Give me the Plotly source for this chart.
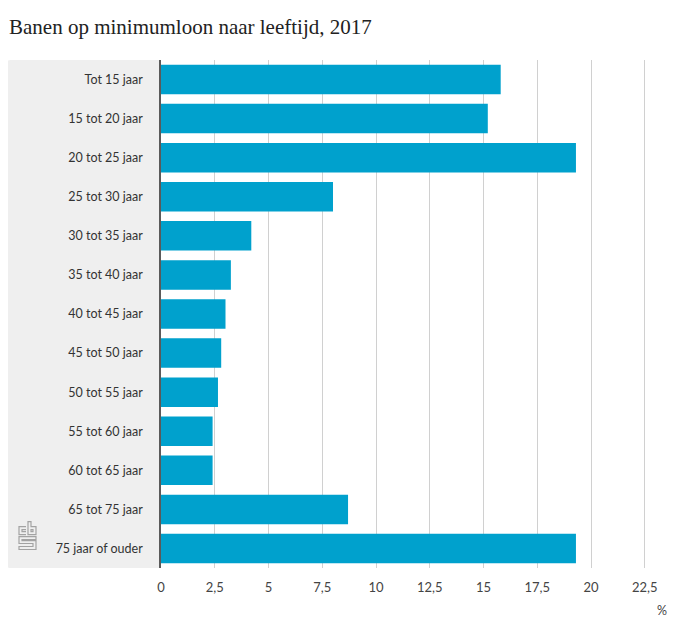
import plotly.graph_objects as go

categories = ["Tot 15 jaar", "15 tot 20 jaar", "20 tot 25 jaar", "25 tot 30 jaar",
              "30 tot 35 jaar", "35 tot 40 jaar", "40 tot 45 jaar", "45 tot 50 jaar",
              "50 tot 55 jaar", "55 tot 60 jaar", "60 tot 65 jaar", "65 tot 75 jaar",
              "75 jaar of ouder"]
values = [15.8, 15.2, 19.3, 8.0, 4.2, 3.25, 3.0, 2.8, 2.65, 2.4, 2.4, 8.7, 19.3]
tick_vals = [0, 2.5, 5, 7.5, 10, 12.5, 15, 17.5, 20, 22.5]
tick_text = ["0", "2,5", "5", "7,5", "10", "12,5", "15", "17,5", "20", "22,5"]
title_text = "Banen op minimumloon naar leeftijd, 2017"
unit_text = "%"

OFF = 8  # page body margin
W, H = 694 - 2 * OFF, 633 - 2 * OFF
L, T = 161 - OFF, 60 - OFF
PB = 568.5 - OFF          # plot bottom in figure px
PR = 680 - OFF            # plot right in figure px
R, B = W - PR, H - PB
PW, PH = W - L - R, H - T - B

def px(x):
    return (x - OFF - L) / PW

def py(y):
    return (H - B - (y - OFF)) / PH

def path_px(points, close=False):
    s = "M " + " L ".join(f"{px(x):.5f},{py(y):.5f}" for x, y in points)
    return s + (" Z" if close else "")

fig = go.Figure(go.Bar(
    x=values, y=categories, orientation="h",
    marker=dict(color="#00a1cd", line=dict(width=0)),
    hoverinfo="x+y",
))

shapes = []
# rounded grey label panel
x0, x1, y0, y1, r = 5, 161, 60, 568.5, 6
rx, ry = r / PW, r / PH
X0, X1, Y0, Y1 = px(x0), px(x1), py(y1), py(y0)
panel = (f"M {X0+rx},{Y1} L {X1},{Y1} L {X1},{Y0} L {X0+rx},{Y0} "
         f"Q {X0},{Y0} {X0},{Y0+ry} L {X0},{Y1-ry} Q {X0},{Y1} {X0+rx},{Y1} Z")
shapes.append(dict(type="path", path=panel, xref="paper", yref="paper",
                   fillcolor="#efefef", line=dict(width=0), layer="below"))

# cbs logo (approximate)
logo_col = "#a3a3a3"
logo_paths = [
    ([(26, 527), (19, 527), (19, 535), (26, 535)], False),
    ([(26, 530), (22, 530), (22, 532), (26, 532)], False),
    ([(28, 522), (28, 535), (36, 535), (36, 527), (31, 527), (31, 522)], True),
    ([(31, 530), (33, 530), (33, 532), (31, 532)], True),
    ([(36, 537), (19, 537), (19, 544), (33, 544), (33, 547), (19, 547), (19, 550),
      (36, 550), (36, 541), (22, 541), (22, 540), (36, 540)], True),
]
for pts, cl in logo_paths:
    shapes.append(dict(type="path", path=path_px(pts, cl), xref="paper", yref="paper",
                       line=dict(color=logo_col, width=1.2)))

annotations = [
    dict(text=title_text, xref="paper", yref="paper", x=px(7), y=py(27),
         xanchor="left", yanchor="middle", showarrow=False,
         font=dict(family="Liberation Serif, serif", size=21, color="#222222")),
    dict(text=unit_text, xref="paper", yref="paper", x=px(662), y=py(611),
         xanchor="center", yanchor="middle", showarrow=False,
         font=dict(family="Lato, sans-serif", size=12.5, color="#444444")),
]

fig.update_layout(
    width=W, height=H,
    margin=dict(l=L, r=R, t=T, b=B, pad=0),
    paper_bgcolor="white", plot_bgcolor="rgba(0,0,0,0)",
    bargap=0.245,
    showlegend=False,
    shapes=shapes,
    annotations=annotations,
    xaxis=dict(range=[0, PW / 21.5], tickvals=tick_vals, ticktext=tick_text,
               showgrid=True, gridcolor="#d0d0d0", gridwidth=1, zeroline=False,
               showline=False, ticks="", ticklabelstandoff=10,
               tickfont=dict(family="Lato, sans-serif", size=13, color="#444444"),
               fixedrange=True),
    yaxis=dict(categoryorder="array", categoryarray=categories, autorange="reversed",
               showgrid=False, zeroline=False, showline=True, linecolor="#5a5a5a",
               linewidth=1.5, ticks="", ticklabelstandoff=14,
               tickfont=dict(family="Lato, sans-serif", size=12.5, color="#333333"),
               fixedrange=True),
    font=dict(family="Lato, sans-serif"),
)

fig.write_html("out.html")
